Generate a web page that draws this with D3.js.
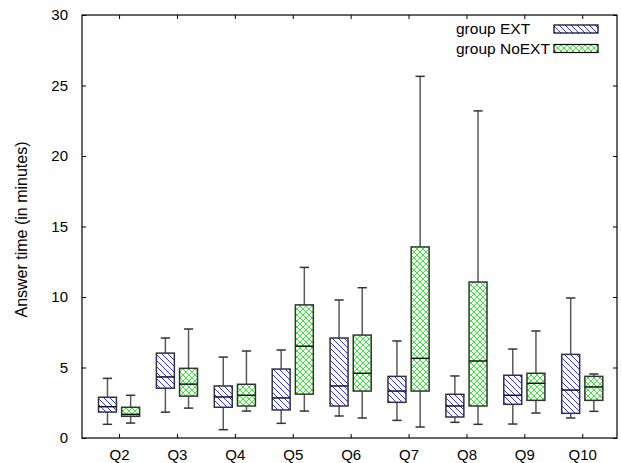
<!DOCTYPE html>
<html>
<head>
<meta charset="utf-8">
<script src="https://cdn.jsdelivr.net/npm/d3@7"></script>
<style>
  body { margin: 0; background: #fff; }
  text { font-family: "Liberation Sans", Arial, sans-serif; fill: #000; }
</style>
</head>
<body>
<svg id="chart" width="621" height="463"></svg>
<script>
// ---- data ----
const categories = ["Q2", "Q3", "Q4", "Q5", "Q6", "Q7", "Q8", "Q9", "Q10"];
const categoryPos = [2, 3, 4, 5, 6, 7, 8, 9, 10];
const yTicks = [0, 5, 10, 15, 20, 25, 30];

// group EXT: whisker min, Q1, median, Q3, whisker max
const extMin = [0.97, 1.83, 0.59, 1.04, 1.56, 1.25, 1.11, 0.99, 1.42];
const extQ1  = [1.84, 3.53, 2.18, 1.99, 2.27, 2.53, 1.49, 2.39, 1.75];
const extMed = [2.22, 4.33, 2.91, 2.84, 3.69, 3.33, 2.27, 3.03, 3.40];
const extQ3  = [2.89, 6.02, 3.69, 4.89, 7.09, 4.37, 3.10, 4.45, 5.93];
const extMax = [4.23, 7.09, 5.74, 6.24, 9.79, 6.88, 4.40, 6.31, 9.93];

// group NoEXT
const noMin = [1.06, 2.12, 1.91, 1.91, 1.42, 0.78, 0.97, 1.77, 1.89];
const noQ1  = [1.54, 2.97, 2.27, 3.11, 3.33, 3.33, 2.27, 2.67, 2.67];
const noMed = [1.68, 3.82, 3.03, 6.51, 4.59, 5.65, 5.46, 3.88, 3.62];
const noQ3  = [2.18, 4.94, 3.81, 9.44, 7.30, 13.55, 11.06, 4.59, 4.37];
const noMax = [3.03, 7.73, 6.17, 12.10, 10.66, 25.65, 23.20, 7.59, 4.54];

const seriesNames = ["group EXT", "group NoEXT"];

// ---- layout ----
const L = 82, R = 617, T = 15, B = 438;
const svg = d3.select("#chart");

const x = d3.scaleLinear().domain([1.36, 10.6]).range([L, R]);
const y = d3.scaleLinear().domain([0, 30]).range([B, T]);

// patterns
const defs = svg.append("defs");
const pExt = defs.append("pattern").attr("id", "hatchExt")
  .attr("patternUnits", "userSpaceOnUse").attr("width", 6).attr("height", 6);
pExt.append("rect").attr("width", 6).attr("height", 6).attr("fill", "#fff");
pExt.append("path").attr("d", "M-1,-1 L7,7 M-1,5 L1,7 M5,-1 L7,1")
  .attr("stroke", "#3030ff").attr("stroke-width", 1);

const pNo = defs.append("pattern").attr("id", "hatchNo")
  .attr("patternUnits", "userSpaceOnUse").attr("width", 6).attr("height", 6);
pNo.append("rect").attr("width", 6).attr("height", 6).attr("fill", "#fff");
pNo.append("path").attr("d", "M0,0 L6,6 M6,0 L0,6")
  .attr("stroke", "#30f030").attr("stroke-width", 1);

// build rows
const groups = [
  { name: seriesNames[0], fill: "url(#hatchExt)", off: -0.2,
    mins: extMin, q1: extQ1, med: extMed, q3: extQ3, maxs: extMax },
  { name: seriesNames[1], fill: "url(#hatchNo)", off: 0.2,
    mins: noMin, q1: noQ1, med: noMed, q3: noQ3, maxs: noMax }
];
const boxW = 0.31;
const capW = 0.16;

groups.forEach(g => {
  const rows = categories.map((c, i) => ({
    pos: categoryPos[i] + g.off,
    min: g.mins[i], q1: g.q1[i], med: g.med[i], q3: g.q3[i], max: g.maxs[i]
  }));
  const gg = svg.append("g");
  const item = gg.selectAll("g").data(rows).join("g");
  // whiskers
  item.append("line")
    .attr("x1", d => x(d.pos)).attr("x2", d => x(d.pos))
    .attr("y1", d => y(d.max)).attr("y2", d => y(d.q3))
    .attr("stroke", "#5a5a5a").attr("stroke-width", 1.5);
  item.append("line")
    .attr("x1", d => x(d.pos)).attr("x2", d => x(d.pos))
    .attr("y1", d => y(d.q1)).attr("y2", d => y(d.min))
    .attr("stroke", "#5a5a5a").attr("stroke-width", 1.5);
  // caps
  item.append("line")
    .attr("x1", d => x(d.pos - capW / 2)).attr("x2", d => x(d.pos + capW / 2))
    .attr("y1", d => y(d.max)).attr("y2", d => y(d.max))
    .attr("stroke", "#333").attr("stroke-width", 1.5);
  item.append("line")
    .attr("x1", d => x(d.pos - capW / 2)).attr("x2", d => x(d.pos + capW / 2))
    .attr("y1", d => y(d.min)).attr("y2", d => y(d.min))
    .attr("stroke", "#333").attr("stroke-width", 1.5);
  // box
  item.append("rect")
    .attr("x", d => x(d.pos - boxW / 2))
    .attr("width", d => x(d.pos + boxW / 2) - x(d.pos - boxW / 2))
    .attr("y", d => y(d.q3))
    .attr("height", d => y(d.q1) - y(d.q3))
    .attr("fill", g.fill)
    .attr("stroke", "#333").attr("stroke-width", 1.5);
  // median
  item.append("line")
    .attr("x1", d => x(d.pos - boxW / 2)).attr("x2", d => x(d.pos + boxW / 2))
    .attr("y1", d => y(d.med)).attr("y2", d => y(d.med))
    .attr("stroke", "#111").attr("stroke-width", 1.5);
});

// frame
svg.append("rect").attr("x", L).attr("y", T).attr("width", R - L).attr("height", B - T)
  .attr("fill", "none").attr("stroke", "#000").attr("stroke-width", 1.2);

// y ticks (inward, both sides) and labels
const tickLen = 4;
const yAxisL = d3.axisLeft(y).tickValues(yTicks).tickSizeInner(-tickLen).tickSizeOuter(0).tickPadding(14);
const gyl = svg.append("g").attr("transform", `translate(${L},0)`).call(yAxisL);
gyl.select(".domain").remove();
gyl.selectAll("text").style("font-size", "15px").attr("font-family", "Liberation Sans, Arial, sans-serif");
gyl.selectAll("line").attr("stroke", "#000");

const yAxisR = d3.axisRight(y).tickValues(yTicks).tickSizeInner(-tickLen).tickSizeOuter(0).tickFormat("");
const gyr = svg.append("g").attr("transform", `translate(${R},0)`).call(yAxisR);
gyr.select(".domain").remove();
gyr.selectAll("line").attr("stroke", "#000");

// x ticks
const xAxisB = d3.axisBottom(x).tickValues(categoryPos)
  .tickFormat((d, i) => categories[i]).tickSizeInner(-tickLen).tickSizeOuter(0).tickPadding(11);
const gxb = svg.append("g").attr("transform", `translate(0,${B})`).call(xAxisB);
gxb.select(".domain").remove();
gxb.selectAll("text").style("font-size", "15px").attr("font-family", "Liberation Sans, Arial, sans-serif");
gxb.selectAll("line").attr("stroke", "#000");

const xAxisT = d3.axisTop(x).tickValues(categoryPos).tickSizeInner(-tickLen).tickSizeOuter(0).tickFormat("");
const gxt = svg.append("g").attr("transform", `translate(0,${T})`).call(xAxisT);
gxt.select(".domain").remove();
gxt.selectAll("line").attr("stroke", "#000");

// y label
svg.append("text")
  .attr("transform", `translate(27,${(T + B) / 2 + 3}) rotate(-90)`)
  .attr("text-anchor", "middle")
  .style("font-size", "16px")
  .text("Answer time (in minutes)");

// legend
const legend = svg.append("g");
const legendRows = [
  { name: seriesNames[0], fill: "url(#hatchExt)", y: 29 },
  { name: seriesNames[1], fill: "url(#hatchNo)", y: 48.5 }
];
legendRows.forEach(r => {
  legend.append("text").attr("x", 456).attr("y", r.y).attr("dy", "0.35em")
    .attr("text-anchor", "start").style("font-size", "15.5px").text(r.name);
  legend.append("rect").attr("x", 554).attr("y", r.y - 4).attr("width", 44).attr("height", 8)
    .attr("fill", r.fill).attr("stroke", "#000").attr("stroke-width", 1.2);
});
</script>
</body>
</html>
